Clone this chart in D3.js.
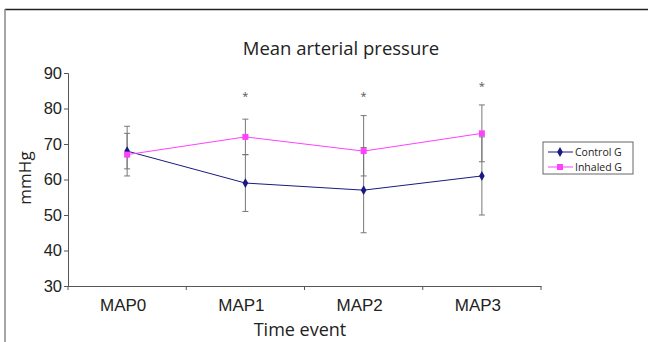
<!DOCTYPE html>
<meta charset="utf-8">
<title>Mean arterial pressure</title>
<style>
body { margin: 0; background: #fff; }
svg { font-family: "Open Sans", sans-serif; }
</style>
<script src="https://d3js.org/d3.v7.min.js"></script>
<body>
<script>
var width = 648, height = 342;

var events = ["MAP0", "MAP1", "MAP2", "MAP3"];
var yTicks = [30, 40, 50, 60, 70, 80, 90];

var controlMean = [68, 59, 57, 61];
var controlLow  = [63, 51, 45, 50];
var controlHigh = [73, 67, 69, 72];

var inhaledMean = [67, 72, 68, 73];
var inhaledLow  = [61, 67, 61, 65];
var inhaledHigh = [75, 77, 78, 81];

// asterisks (p < 0.05) above each event, null = none
var starY = [null, 84, 84, 87];

var series = [
  { name: "Control G", mean: controlMean, low: controlLow, high: controlHigh, color: "#1a1a80", shape: "diamond" },
  { name: "Inhaled G", mean: inhaledMean, low: inhaledLow, high: inhaledHigh, color: "#ff40ff", shape: "square" }
];

var margin = { left: 68, right: 107, top: 73, bottom: 56 };

var svg = d3.select("body").append("svg")
    .attr("width", width)
    .attr("height", height);

// frame
svg.append("line").attr("x1", 5).attr("x2", width).attr("y1", 9.5).attr("y2", 9.5)
    .attr("stroke", "#222").attr("stroke-width", 1.5);
svg.append("line").attr("x1", 5).attr("x2", 5).attr("y1", 9).attr("y2", height)
    .attr("stroke", "#888").attr("stroke-width", 1.5);

var x = d3.scaleBand()
    .domain(events)
    .range([margin.left, width - margin.right]);

var y = d3.scaleLinear()
    .domain([30, 90])
    .range([height - margin.bottom, margin.top]);

var xc = function(i) { return x(events[i]) + x.bandwidth() / 2; };

// y axis
var yAxis = svg.append("g")
    .attr("transform", "translate(" + margin.left + ",0)")
    .call(d3.axisLeft(y).tickValues(yTicks).tickSize(4).tickPadding(2));
yAxis.selectAll("text").style("font-size", "16.5px").attr("fill", "#222");
yAxis.selectAll("line, path").attr("stroke", "#555");

// x axis with ticks at band boundaries
var xAxis = svg.append("g")
    .attr("transform", "translate(0," + y(30) + ")")
    .call(d3.axisBottom(x).tickSize(0).tickPadding(13));
xAxis.selectAll("text").style("font-size", "17px").attr("fill", "#222")
    .attr("dx", "-4");
xAxis.select("path").attr("stroke", "#555");
xAxis.selectAll(".bound")
    .data(events.map(function(d) { return x(d); }).concat([x(events[3]) + x.bandwidth()]))
  .enter().append("line")
    .attr("class", "bound")
    .attr("x1", function(d) { return d; }).attr("x2", function(d) { return d; })
    .attr("y1", 0).attr("y2", 4)
    .attr("stroke", "#555");

// error bars
series.forEach(function(s) {
  var g = svg.append("g").attr("stroke", "#777").attr("stroke-width", 1);
  events.forEach(function(e, i) {
    var cx = xc(i);
    g.append("line").attr("x1", cx).attr("x2", cx)
        .attr("y1", y(s.low[i])).attr("y2", y(s.high[i]));
    g.append("line").attr("x1", cx - 3).attr("x2", cx + 3)
        .attr("y1", y(s.low[i])).attr("y2", y(s.low[i]));
    g.append("line").attr("x1", cx - 3).attr("x2", cx + 3)
        .attr("y1", y(s.high[i])).attr("y2", y(s.high[i]));
  });
});

// lines and markers
var line = d3.line()
    .x(function(d, i) { return xc(i); })
    .y(function(d) { return y(d); });

var diamond = d3.symbol().type(d3.symbolDiamond).size(28);
var square = d3.symbol().type(d3.symbolSquare).size(36);

series.forEach(function(s) {
  svg.append("path")
      .datum(s.mean)
      .attr("d", line)
      .attr("fill", "none")
      .attr("stroke", s.color)
      .attr("stroke-width", 1);
  svg.selectAll(null)
      .data(s.mean)
    .enter().append("path")
      .attr("d", s.shape === "diamond" ? diamond : square)
      .attr("transform", function(d, i) { return "translate(" + xc(i) + "," + y(d) + ")"; })
      .attr("fill", s.color);
});

// significance marks
var stars = starY.map(function(v, i) { return { i: i, v: v }; })
    .filter(function(d) { return d.v !== null; });
svg.selectAll(".star")
    .data(stars)
  .enter().append("text")
    .attr("class", "star")
    .attr("x", function(d) { return xc(d.i); })
    .attr("y", function(d) { return y(d.v) + 6; })
    .attr("text-anchor", "middle")
    .style("font-size", "11px")
    .attr("fill", "#555")
    .text("*");

// title and axis labels
svg.append("text")
    .attr("x", 341).attr("y", 55)
    .attr("text-anchor", "middle")
    .style("font-size", "18.5px")
    .attr("fill", "#222")
    .text("Mean arterial pressure");

svg.append("text")
    .attr("transform", "translate(31,178) rotate(-90)")
    .attr("text-anchor", "middle")
    .style("font-size", "17px")
    .attr("fill", "#222")
    .text("mmHg");

svg.append("text")
    .attr("x", 300).attr("y", 336)
    .attr("text-anchor", "middle")
    .style("font-size", "18px")
    .attr("fill", "#222")
    .text("Time event");

// legend
var legend = svg.append("g").attr("transform", "translate(543,142)");
legend.append("rect")
    .attr("width", 90).attr("height", 32)
    .attr("fill", "#fff").attr("stroke", "#666").attr("stroke-width", 1);
series.forEach(function(s, i) {
  var ly = 10 + i * 15;
  legend.append("line").attr("x1", 5).attr("x2", 30).attr("y1", ly).attr("y2", ly)
      .attr("stroke", s.color);
  legend.append("path")
      .attr("d", s.shape === "diamond" ? diamond : square)
      .attr("transform", "translate(17," + ly + ")")
      .attr("fill", s.color);
  legend.append("text")
      .attr("x", 32).attr("y", ly + 4)
      .style("font-size", "10.5px")
      .attr("fill", "#222")
      .text(s.name);
});
</script>
</body>
